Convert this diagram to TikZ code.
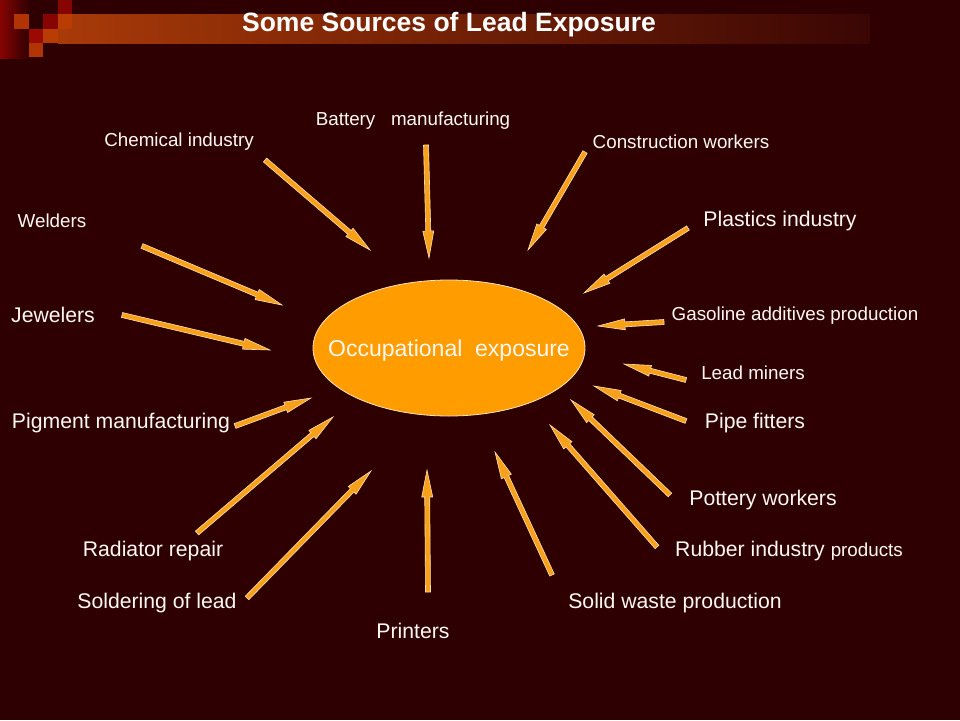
\documentclass[tikz,border=0pt]{standalone}
\usepackage{fontspec}
\setmainfont{Liberation Sans}
\usetikzlibrary{calc,shapes.geometric}
\definecolor{bg}{HTML}{2E0002}
\definecolor{arrfill}{HTML}{F7A11A}
\definecolor{arredge}{HTML}{FFE0B0}
\definecolor{ellfill}{HTML}{FF9C00}
\definecolor{elledge}{HTML}{FFE6C0}
\definecolor{txt}{HTML}{FFF8F2}
\definecolor{sqA}{HTML}{B03404}
\definecolor{sqB}{HTML}{9A0A02}
\definecolor{sqC}{HTML}{860402}
\definecolor{barL}{HTML}{A83A08}
\definecolor{barR}{HTML}{3A0604}
\tikzset{
  lblS/.style={text=txt, inner sep=0pt, font=\fontsize{18.8}{22}\selectfont},
  lblL/.style={text=txt, inner sep=0pt, font=\fontsize{21.2}{24}\selectfont},
  arrowshape/.style={fill=arrfill, draw=arredge, line width=0.6pt, line join=miter},
  centre/.style={ellipse, fill=ellfill, draw=elledge, line width=0.8pt,
    minimum width=272pt, minimum height=136pt, inner sep=0pt},
  centretext/.style={text=txt, inner sep=0pt, font=\fontsize{23}{26}\selectfont},
  titlestyle/.style={text=white, inner sep=0pt, font=\bfseries\fontsize{26.5}{30}\selectfont}
}
\newcommand\srcarrow[2]{%
  \filldraw[arrowshape]
    ($(#1)!2.5pt!90:(#2)$) --
    ($($(#2)!27pt!(#1)$)!2.5pt!-90:(#1)$) --
    ($($(#2)!27pt!(#1)$)!5.5pt!-90:(#1)$) --
    (#2) --
    ($($(#2)!27pt!(#1)$)!5.5pt!90:(#1)$) --
    ($($(#2)!27pt!(#1)$)!2.5pt!90:(#1)$) --
    ($(#1)!2.5pt!-90:(#2)$) -- cycle;}
\begin{document}
\begin{tikzpicture}[x=1pt,y=-1pt]
\useasboundingbox (0,0) rectangle (960,720);
\fill[bg] (0,0) rectangle (960,720);
% corner decoration
\shade[left color=sqC, right color=bg] (0,0) rectangle (30,58);
\shade[left color=barL, right color=barR] (58,14) rectangle (870,43);
\fill[sqA] (14,14) rectangle (29,29);
\fill[sqB] (29,29) rectangle (43,43);
\fill[sqC] (43,14) rectangle (58,29);
\fill[sqC] (58,0) rectangle (72,14);
\fill[sqA] (29,43) rectangle (43,57);
\fill[sqA!90!orange] (43,29) rectangle (58,43);
\fill[sqA!90!orange] (58,14) rectangle (72,29);
% title
\node[titlestyle] (title) at (449,25) {Some Sources of Lead Exposure};
% centre
\node[centre] (occ) at (449,348) {};
\node[centretext] (occtext) at ($(occ.center)+(0,3)$) {Occupational\ \ exposure};
% labels
\node[lblS] (battery) at (413,121) {Battery\ \ \ manufacturing};
\node[lblS] (chem) at (179,142) {Chemical industry};
\node[lblS] (constr) at (681,142) {Construction workers};
\node[lblS] (weld) at (52,221) {Welders};
\node[lblL] (plast) at (780,221) {Plastics industry};
\node[lblL] (jewel) at (53,315) {Jewelers};
\node[lblS] (gas) at (795,316) {Gasoline additives production};
\node[lblS] (miners) at (753,373) {Lead miners};
\node[lblL] (pigment) at (121,423) {Pigment manufacturing};
\node[lblL] (pipe) at (755,423) {Pipe fitters};
\node[lblL] (pottery) at (763,500) {Pottery workers};
\node[lblL] (radiator) at (153,551) {Radiator repair};
\node[lblL, anchor=west] (rubber) at (675,551) {Rubber industry {\fontsize{18.8}{22}\selectfont products}};
\node[lblL] (solder) at (157,603) {Soldering of lead};
\node[lblL] (solid) at (675,603) {Solid waste production};
\node[lblL] (printers) at (413,631) {Printers};
% arrow end points
\coordinate (t1) at (265,160);  \coordinate (h1) at (370,250);
\coordinate (t2) at (426,145);  \coordinate (h2) at (429,258);
\coordinate (t3) at (585,152);  \coordinate (h3) at (528,250);
\coordinate (t4) at (688,228);  \coordinate (h4) at (584,293);
\coordinate (t5) at (664,322);  \coordinate (h5) at (598,326);
\coordinate (t6) at (686,380);  \coordinate (h6) at (624,364);
\coordinate (t7) at (686,421);  \coordinate (h7) at (594,386);
\coordinate (t8) at (670,495);  \coordinate (h8) at (571,400);
\coordinate (t9) at (657,547);  \coordinate (h9) at (550,425);
\coordinate (t10) at (552,575); \coordinate (h10) at (495,452);
\coordinate (t11) at (428,592); \coordinate (h11) at (427,470);
\coordinate (t12) at (247,598); \coordinate (h12) at (371,471);
\coordinate (t13) at (197,533); \coordinate (h13) at (333,417);
\coordinate (t14) at (235,426); \coordinate (h14) at (311,398);
\coordinate (t15) at (122,315); \coordinate (h15) at (270,350);
\coordinate (t16) at (142,246); \coordinate (h16) at (282,305);
\foreach \i in {1,...,16}{\srcarrow{t\i}{h\i}}
\end{tikzpicture}
\end{document}
